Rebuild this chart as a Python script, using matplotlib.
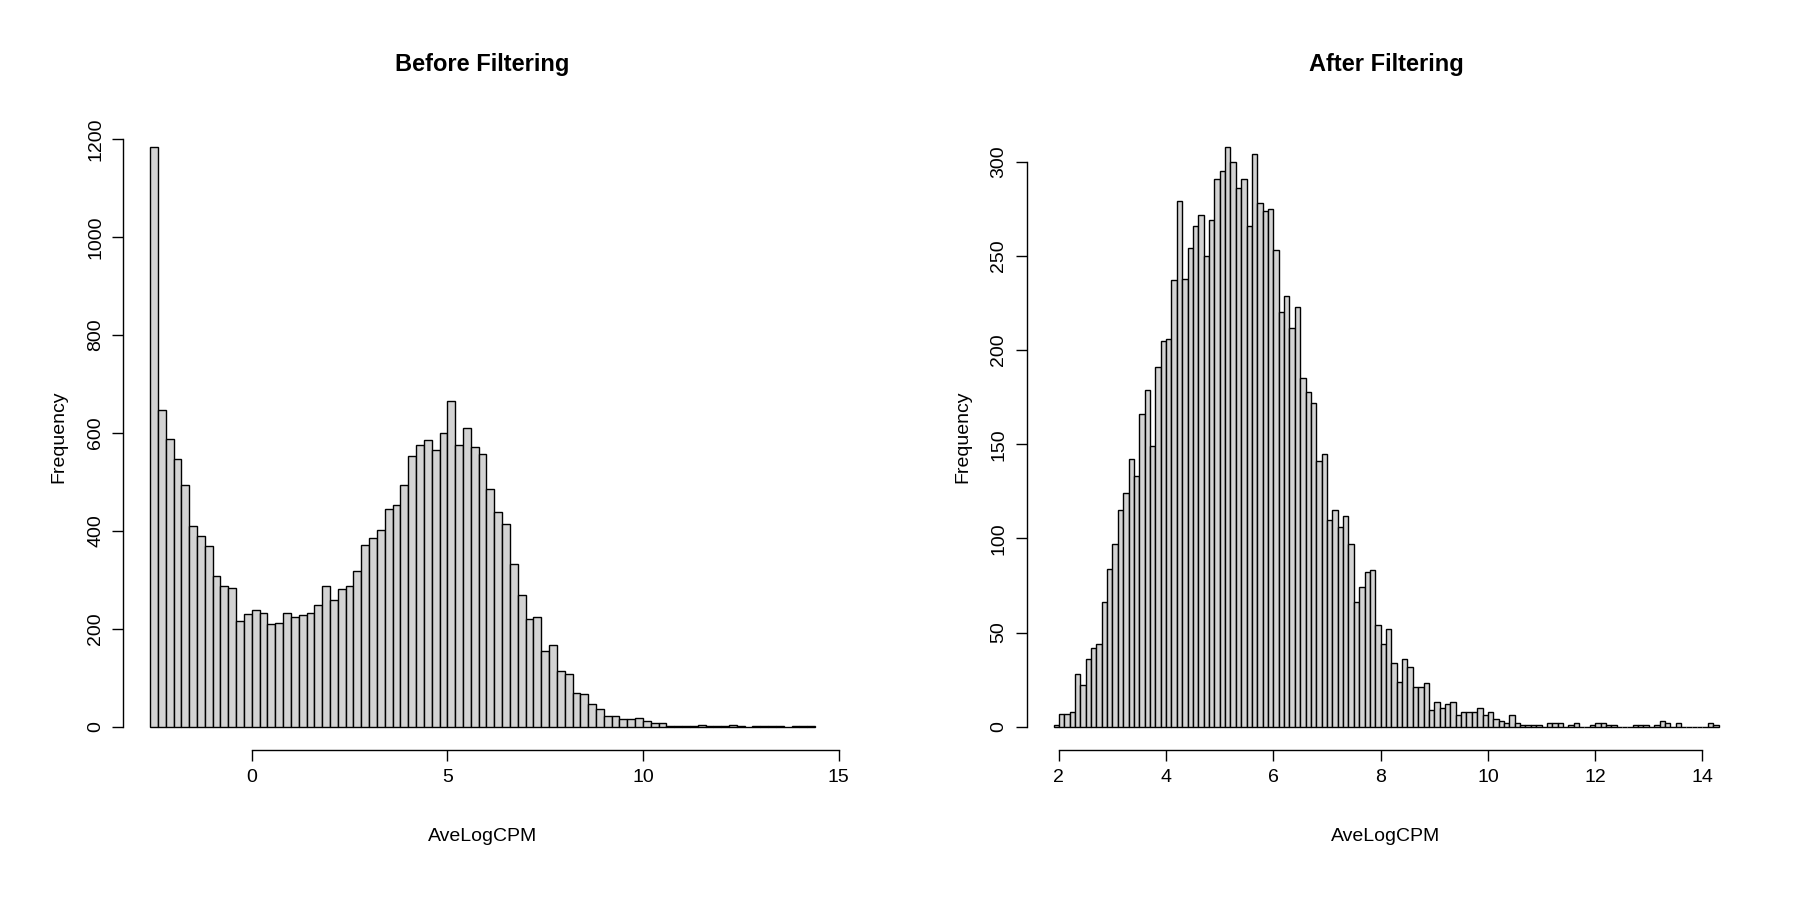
import numpy as np
import matplotlib
matplotlib.use("Agg")
import matplotlib.pyplot as plt

plt.rcParams['font.family'] = ['Liberation Sans', 'DejaVu Sans']

# Before filtering: bins of width 0.2 starting at -2.6
before_start = -2.6
before_width = 0.2
before_counts = [1184, 647, 587, 546, 493, 410, 390, 369, 308, 288, 284, 216, 230, 239, 232, 209,
                 211, 232, 225, 228, 232, 248, 288, 259, 281, 288, 317, 371, 385, 401, 445, 452,
                 493, 553, 576, 586, 564, 600, 666, 576, 610, 572, 557, 485, 439, 413, 333, 268,
                 221, 225, 154, 167, 113, 107, 69, 67, 47, 36, 23, 23, 15, 15, 17, 12, 8, 8,
                 2, 1, 1, 2, 3, 2, 1, 2, 3, 1, 0, 1, 2, 2, 1, 0, 1, 2, 1]

# After filtering: bins of width 0.1 starting at 1.9
after_start = 1.9
after_width = 0.1
after_counts = [1, 7, 7, 8, 28, 22, 36, 42, 44, 66, 84, 97, 115, 124, 142, 133, 166, 179, 149,
                191, 205, 206, 237, 279, 238, 254, 266, 272, 250, 269, 291, 295, 308, 300, 286,
                291, 266, 304, 278, 274, 275, 253, 220, 229, 212, 223, 185,
                178, 172, 141, 145, 110, 115, 106, 112, 97, 66, 74, 82, 83, 54,
                44, 52, 34, 24, 36, 32, 21, 21, 23, 9, 13, 10, 12, 13, 6, 8, 8, 8, 10, 6, 8, 4, 3, 2, 6, 2,
                1, 1, 1, 1, 0, 2, 2, 2, 0, 1, 2, 0, 0, 1, 2, 2, 1, 1, 0, 0, 0, 1, 1, 1, 0, 1, 3, 2, 0, 2,
                0, 0, 0, 0, 0, 2, 1]

before_xticks = [0, 5, 10, 15]
before_yticks = [0, 200, 400, 600, 800, 1000, 1200]
after_xticks = [2, 4, 6, 8, 10, 12, 14]
after_yticks = [0, 50, 100, 150, 200, 250, 300]

fig = plt.figure(figsize=(18, 9), dpi=100)

def panel(rect, start, width, counts, xticks, yticks, title):
    ax = fig.add_axes(rect)
    counts = np.array(counts)
    edges = start + width * np.arange(len(counts))
    ax.bar(edges, counts, width=width, align='edge', color='#D3D3D3',
           edgecolor='black', linewidth=1.0)
    x0, x1 = edges[0], edges[-1] + width
    dx = (x1 - x0) * 0.04
    ymax = counts.max()
    ax.set_xlim(x0 - dx, x1 + dx)
    ax.set_ylim(-ymax * 0.04, ymax * 1.04)
    for s in ['top', 'right']:
        ax.spines[s].set_visible(False)
    ax.spines['left'].set_bounds(yticks[0], yticks[-1])
    ax.spines['bottom'].set_bounds(xticks[0], xticks[-1])
    ax.spines['left'].set_linewidth(1.0)
    ax.spines['bottom'].set_linewidth(1.0)
    ax.set_xticks(xticks)
    ax.set_yticks(yticks)
    ax.set_xticklabels([str(t) for t in xticks], fontsize=14)
    ax.set_yticklabels([str(t) for t in yticks], fontsize=14, rotation=90, va='center')
    ax.tick_params(length=8, width=1.0, pad=6)
    ax.set_title(title, fontsize=17, fontweight='bold', pad=38)
    ax.set_xlabel('AveLogCPM', fontsize=14, labelpad=30)
    ax.set_ylabel('Frequency', fontsize=14, labelpad=14)
    return ax

panel([0.0686, 0.1667, 0.399, 0.696], before_start, before_width, before_counts,
      before_xticks, before_yticks, 'Before Filtering')
panel([0.5705, 0.1667, 0.399, 0.696], after_start, after_width, after_counts,
      after_xticks, after_yticks, 'After Filtering')

fig.savefig('out.png', dpi=100, facecolor='white')
